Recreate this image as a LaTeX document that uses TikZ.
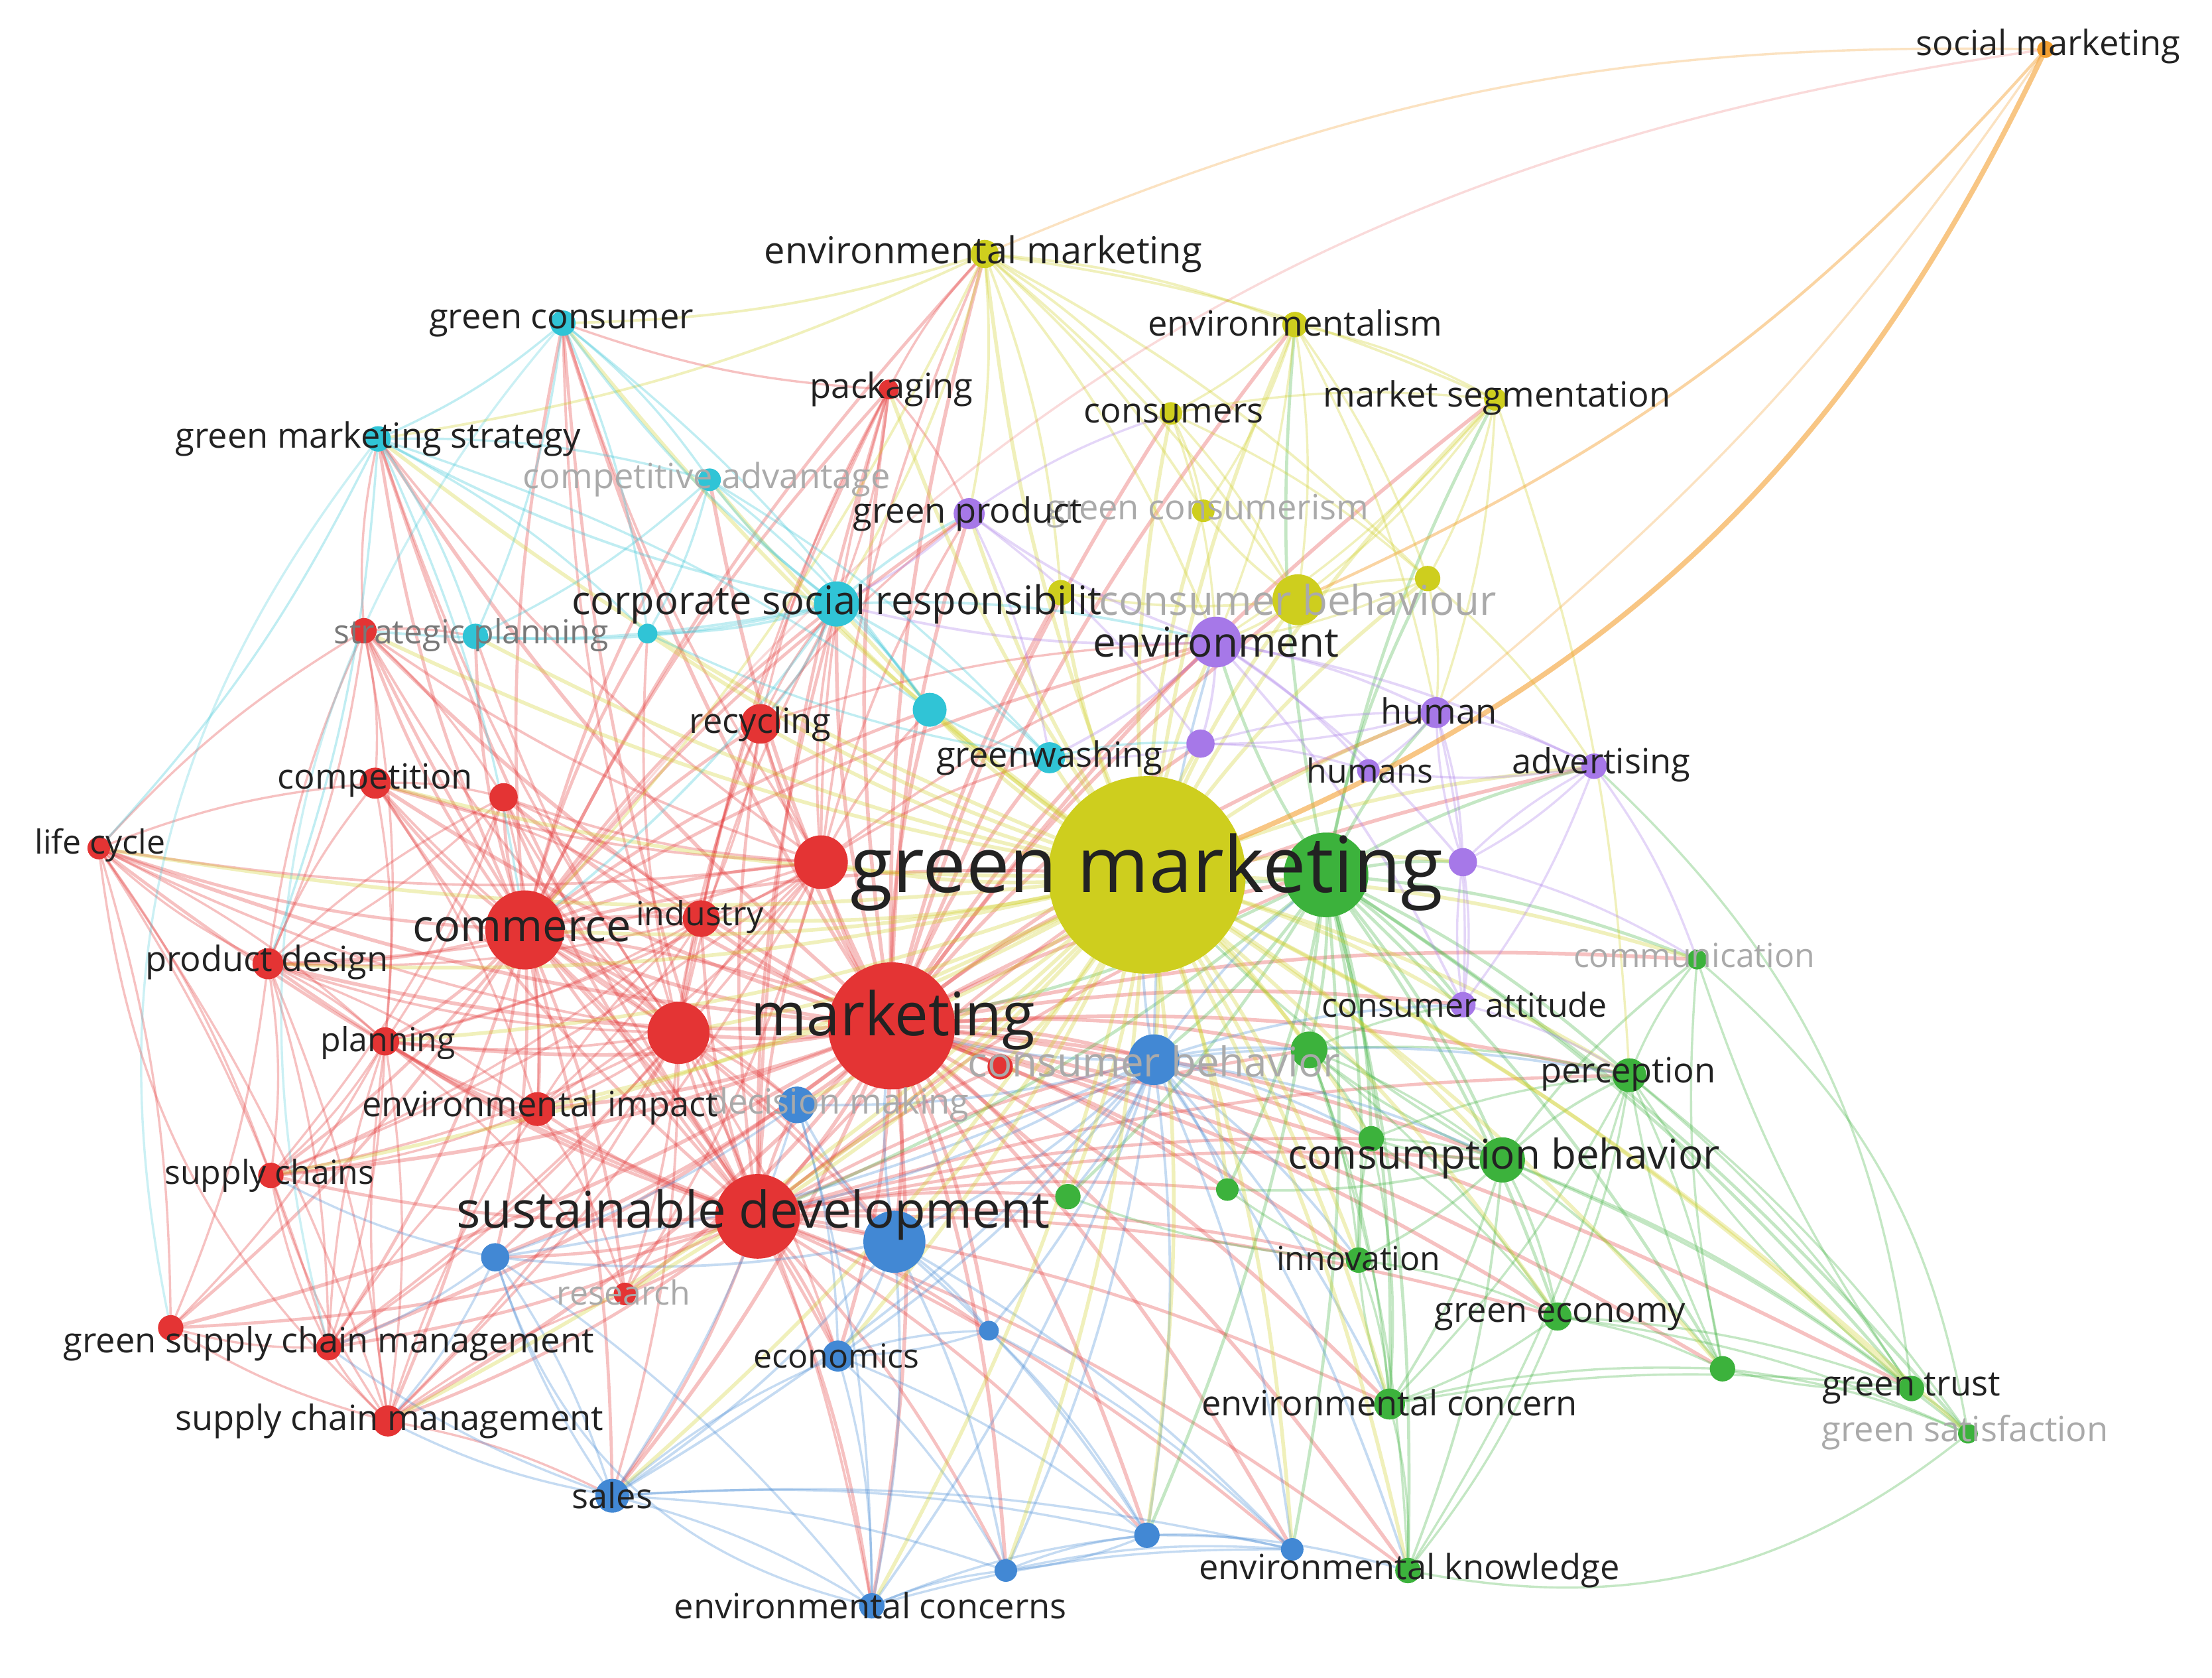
\documentclass[tikz,border=0pt]{standalone}
\usepackage{fontspec}
\setmainfont{Open Sans}
\pgfdeclarelayer{bg}
\pgfdeclarelayer{fg}
\pgfsetlayers{bg,main,fg}
\definecolor{cR}{RGB}{228,52,52}
\definecolor{cG}{RGB}{60,178,60}
\definecolor{cB}{RGB}{66,136,212}
\definecolor{cY}{RGB}{206,206,30}
\definecolor{cP}{RGB}{166,120,232}
\definecolor{cC}{RGB}{48,196,214}
\definecolor{cO}{RGB}{244,160,50}
\definecolor{dk}{RGB}{34,34,34}
\definecolor{fd}{RGB}{170,170,170}
\definecolor{md}{RGB}{120,120,120}
\tikzset{
  nd/.style={circle, inner sep=0pt, minimum size=#1},
  lbl/.style={inner sep=0pt, anchor=center},
}
\begin{document}
\begin{tikzpicture}[x=0.25pt,y=-0.25pt]
\begin{pgfonlayer}{bg}
\fill[white] (0,0) rectangle (1568,1189);
\end{pgfonlayer}
\useasboundingbox (0,0) rectangle (1568,1189);
% nodes: name/x/y/diameter/colour
\foreach \n/\x/\y/\d/\c in {
 sm/1450/35/12/cO, em/698/180/20/cY, envism/918/230/18/cY, gc/399/229/18/cC,
 pack/630/276/14/cR, cons/830/293/16/cY, mseg/1060/283/16/cY, gms/268/311/18/cC,
 ca/503/340/16/cC, gp/687/364/22/cP, gcism/853/362/16/cY, csr/593/428/32/cC,
 cbou/920/425/36/cY, y2/1012/410/18/cY, y3/752/420/18/cY, env/862/455/36/cP,
 sp/258/447/18/cR, c2/337/451/18/cC, c3/459/449/14/cC, rec/539/513/28/cR,
 c4/659/503/24/cC, gw/744/537/22/cC, p2/851/527/20/cP, hum/1018/505/22/cP,
 hums/970/546/16/cP, adv/1130/543/18/cP, comp/266/555/22/cR, r2/357/565/20/cR,
 lc/70/601/16/cR, r3/582/611/38/cR, gm/813/620/140/cY, g1/940/620/60/cG,
 p3/1037/611/20/cP, com/372/659/56/cR, ind/497/651/26/cR, pd/190/683/22/cR,
 commu/1203/680/14/cG, mk/632/727/90/cR, r4/481/732/44/cR, catt/1037/712/18/cP,
 plan/273/738/20/cR, cbeh/818/751/36/cB, g2/928/744/26/cG, r5/709/756/18/cR,
 perc/1155/762/24/cG, ei/381/786/24/cR, dm/565/783/26/cB, g3/972/807/18/cG,
 consb/1065/822/32/cG, sc/192/833/18/cR, g4/757/848/18/cG, g5/870/843/16/cG,
 sd/537/862/60/cR, b2/634/880/44/cB, b3/351/891/20/cB, inn/963/893/18/cG,
 res/443/917/16/cR, geco/1104/933/20/cG, gscm/233/955/18/cR, r6/121/941/18/cR,
 eco/594/961/22/cB, b4/701/943/14/cB, g6/1221/970/18/cG, gt/1355/984/18/cG,
 gsat/1395/1016/14/cG, ec/985/995/22/cG, scm/275/1007/22/cR, sales/434/1060/24/cB,
 b5/813/1088/18/cB, b6/916/1098/16/cB, b7/713/1113/16/cB, ek/998/1113/18/cG,
 ecs/618/1138/18/cB}
 { \pgfmathsetmacro\dd{\d*0.25} \node[nd=\dd pt, fill=\c] (\n) at (\x,\y) {}; }
% connectors
\begin{pgfonlayer}{bg}
\foreach \s/\c/\w/\ts in {
 mk/cR/2.6/{gm,com,sd,r4,r3,ind,rec,pd,plan,ei,comp,sc,scm,gscm,r6,lc,sp,r2,pack,csr,env,cbeh,b2,dm,eco,sales,res,g1,consb,gp,em,gc,gms,catt,perc,ecs,ek,ec,geco,inn,y3,cbou,hum,adv,gw,c4,ca,p2,r5,g2,g3,g4,g5,b3,b4,b5,b6,b7,gt,g6,commu,envism,cons,mseg},
 com/cR/2.2/{sd,r4,r3,ind,rec,pd,plan,ei,comp,sc,scm,gscm,r6,lc,sp,r2,pack,csr,gms,gc,res,b3,sales,eco,gm,b2,dm,r5,c2,c3,c4,ca,em,env,gp},
 sd/cR/2.2/{r4,r3,ind,rec,pd,plan,ei,comp,sc,scm,gscm,r6,lc,sp,r2,res,b3,sales,eco,ecs,b2,dm,cbeh,g1,consb,ec,inn,g4,b4,gm,b5,b6,b7,ek,geco,perc,g2,g3,g5,r5,csr,pack,gc,gms},
 r4/cR/1.8/{r3,ind,rec,pd,plan,ei,comp,sc,scm,gscm,lc,sp,r2,res,csr,pack,c2,c3,b3,b2,dm,eco,ecs,sales,gc,gms},
 r3/cR/1.8/{ind,rec,pd,plan,ei,comp,sc,lc,sp,r2,pack,csr,gc,gms,em,c4,gw,env,gp,res,scm,gscm},
 pd/cR/1.6/{lc,plan,ei,sc,scm,gscm,r6,comp,sp,r2},
 lc/cR/1.6/{comp,sp,sc,r6,scm,gscm,plan},
 sp/cR/1.6/{comp,r2,plan,gms,c2,pd},
 comp/cR/1.6/{r2,ind,plan,ei},
 r2/cR/1.6/{ind,plan,ei,sc,pd},
 ind/cR/1.6/{plan,ei,sc,pd,rec,pack},
 plan/cR/1.6/{sc,scm,gscm,res,r6},
 scm/cR/1.6/{gscm,r6,sc,sales,ei,plan,res},
 gscm/cR/1.6/{r6,sc,ei,plan},
 rec/cR/1.6/{pack,ind,csr,gp,env},
 ei/cR/1.6/{plan,sc,res,ind},
 pack/cR/1.6/{gc,em,csr,gp},
 g1/cG/2.2/{gm,consb,perc,g2,g3,inn,geco,ec,ek,gt,gsat,g6,commu,catt,hum,adv,cbeh,g4,g5,mk,sd,env,p3,y2,mseg,envism,b5,b6},
 consb/cG/1.8/{perc,geco,ec,ek,gt,gsat,g6,commu,g3,inn,gm,g2,g5},
 perc/cG/1.6/{geco,gt,gsat,g6,commu,ec,ek},
 geco/cG/1.6/{gt,gsat,g6,ec,ek},
 gt/cG/1.6/{gsat,g6,commu,perc},
 ec/cG/1.6/{ek,inn,gt,g6},
 g6/cG/1.6/{gsat,commu,perc},
 inn/cG/1.6/{g3,g5,g4,ec,geco},
 g2/cG/1.6/{g3,consb,perc,catt,ec,inn,ek,geco},
 g3/cG/1.6/{consb,perc,geco,ec},
 cbeh/cB/1.8/{gm,mk,sd,b2,dm,eco,sales,b5,b6,b7,ecs,ek,g1,env,g2,g3,g4,g5,consb,perc,catt,ec,inn,b3,b4},
 b2/cB/1.8/{dm,eco,sales,b3,b4,b5,b6,b7,ecs,mk},
 dm/cB/1.6/{eco,sales,b3,ecs},
 b3/cB/1.6/{sc,gscm,scm,sales,ecs},
 b4/cB/1.6/{b5,b6,eco},
 b7/cB/1.6/{b5,b6},
 sales/cB/1.6/{ecs,b3,eco,b5,b7,scm,gscm,b6},
 eco/cB/1.6/{ecs,b7,b5,b4},
 ecs/cB/1.6/{b7,b5,b6},
 b5/cB/1.6/{b6,ek,b7},
 gm/cY/2.6/{em,envism,cons,mseg,gcism,cbou,y2,y3,env,gp,csr,com,sd,mk,rec,hum,adv,catt,cbeh,consb,perc,ec,ek,inn,geco,pack,gc,gms,r3,r4,ind,ei,sales,eco,g2,g3,g4,g5,r5,p2,p3,c4,gw,ca,c2,c3,sp,comp,pd,plan,sc,scm,lc,b2,dm,b5,b6,b7,ecs,gt,g6,gsat,commu,res},
 em/cY/1.8/{envism,cons,mseg,gcism,cbou,y2,y3,gc,gms,csr,env,gp,com},
 envism/cY/1.6/{cons,mseg,gcism,cbou,y2,env,hum},
 cons/cY/1.6/{gcism,cbou,y2,mseg,env},
 mseg/cY/1.6/{cbou,y2,env,hum,perc},
 cbou/cY/1.8/{gcism,y2,y3,env},
 y2/cY/1.6/{hum,adv,env},
 env/cP/1.8/{gp,p2,hum,hums,adv,catt,p3,csr,gw},
 hum/cP/1.6/{hums,adv,catt,p3,p2},
 adv/cP/1.6/{catt,p3,commu,hums},
 gp/cP/1.6/{p2,gw,csr,cons},
 catt/cP/1.6/{p3,perc},
 p3/cP/1.6/{catt,commu,adv,hum},
 p2/cP/1.6/{hums,hum,gw},
 csr/cC/1.8/{gc,gms,ca,c2,c3,c4,gw,sp,gp,env,rec,com},
 gc/cC/1.6/{gms,ca,c2,c3,c4},
 gms/cC/1.6/{ca,c2,c3,c4,lc,pd,com},
 ca/cC/1.6/{c2,c3,c4,gw},
 gw/cC/1.6/{c4,c3,p2}}
 { \pgfmathsetmacro\lw{\w*0.25}
   \foreach \t in \ts { \draw[\c, draw opacity=0.3, line width=\lw pt] (\s.center) to[bend left=8] (\t.center); } }
% long arcs
\draw[cO, draw opacity=0.6, line width=0.9pt] (sm.center) to[bend left=22] (gm.center);
\draw[cO, draw opacity=0.45, line width=0.5pt] (sm.center) to[bend left=12] (cbou.center);
\draw[cO, draw opacity=0.3, line width=0.4pt] (sm.center) to[bend right=12] (em.center);
\draw[cR, draw opacity=0.18, line width=0.4pt] (sm.center) to[bend right=22] (com.center);
\draw[cO, draw opacity=0.3, line width=0.4pt] (sm.center) to[bend left=8] (hum.center);
\draw[cC, draw opacity=0.25, line width=0.4pt] (gc.center) to[bend right=28] (gscm.center);
\draw[cC, draw opacity=0.25, line width=0.4pt] (gms.center) to[bend right=25] (r6.center);
\draw[cR, draw opacity=0.3, line width=0.4pt] (lc.center) to[bend right=20] (scm.center);
\draw[cB, draw opacity=0.3, line width=0.4pt] (b3.center) to[bend right=30] (ecs.center);
\draw[cG, draw opacity=0.3, line width=0.4pt] (gsat.center) to[bend left=25] (ek.center);
\draw[cG, draw opacity=0.3, line width=0.4pt] (commu.center) to[bend left=20] (gsat.center);
\draw[cG, draw opacity=0.3, line width=0.4pt] (adv.center) to[bend left=20] (gt.center);
\end{pgfonlayer}
% labels
\begin{pgfonlayer}{fg}
\foreach \x/\y/\s/\g/\t in {
 501/340/22/fd/competitive advantage, 856/362/22/fd/green consumerism,
 920/425/26/fd/consumer behaviour, 1201/677/21/fd/communication,
 818/752/26/fd/consumer behavior, 594/783/22/fd/decision making,
 442/916/21/fd/research, 1393/1015/22/fd/green satisfaction,
 334/450/21/md/strategic planning,
 1452/33/22/dk/social marketing, 697/180/23.5/dk/environmental marketing,
 918/229/22/dk/environmentalism, 398/229/22/dk/green consumer,
 632/276/22/dk/packaging, 832/293/22/dk/consumers,
 1061/282/22/dk/market segmentation, 268/311/22/dk/green marketing strategy,
 686/364/22/dk/green product, 593/428/25/dk/corporate social responsibilit,
 862/455/26/dk/environment, 539/513/22/dk/recycling,
 744/537/22/dk/greenwashing, 1020/504/22/dk/human,
 971/546/21/dk/humans, 1135/542/22/dk/advertising,
 266/553/22/dk/competition, 71/599/21/dk/life cycle,
 813/618/49/dk/green marketing, 370/659/28/dk/commerce,
 496/650/21/dk/industry, 189/682/22/dk/product design,
 633/723/38/dk/marketing, 1038/712/21/dk/consumer attitude,
 275/739/21/dk/planning, 1154/761/22/dk/perception,
 383/785/22/dk/environmental impact, 1066/821/26/dk/consumption behavior,
 191/833/21/dk/supply chains, 534/861/32/dk/sustainable development,
 963/892/21/dk/innovation, 1106/933/22/dk/green economy,
 233/952/22/dk/green supply chain management, 593/961/21/dk/economics,
 1355/984/22/dk/green trust, 985/994/22/dk/environmental concern,
 276/1007/22/dk/supply chain management, 434/1060/22/dk/sales,
 999/1113/22/dk/environmental knowledge, 617/1138/22/dk/environmental concerns}
 { \pgfmathsetmacro\fs{\s*0.28} \node[lbl, text=\g, font=\fontsize{\fs}{\fs}\selectfont] at (\x,\y) {\t}; }
\end{pgfonlayer}
\end{tikzpicture}
\end{document}
